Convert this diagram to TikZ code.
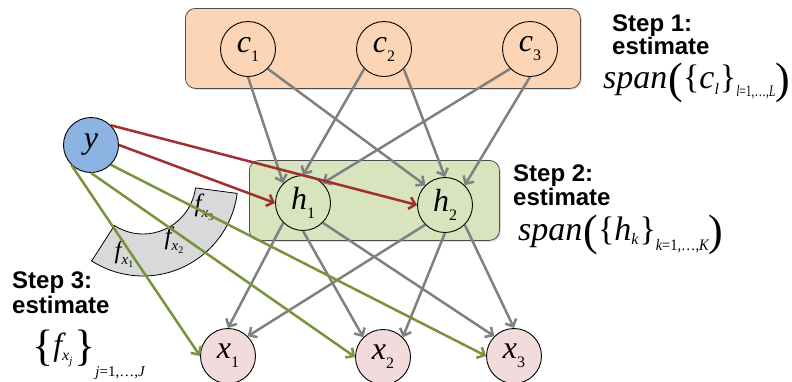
\documentclass[tikz,border=0pt]{standalone}
\usepackage{fontspec}
\usepackage{graphicx}
\newfontfamily\stepfont{Liberation Sans}
\newfontfamily\tms{Liberation Serif}
\usetikzlibrary{arrows.meta,calc,shadows}
\definecolor{boxorange}{RGB}{251,213,181}
\definecolor{boxgreen}{RGB}{215,228,189}
\definecolor{ynode}{RGB}{141,179,226}
\definecolor{xnode}{RGB}{242,220,219}
\definecolor{arcgray}{RGB}{217,217,217}
\definecolor{arrgray}{RGB}{128,128,128}
\definecolor{arrred}{RGB}{158,48,46}
\definecolor{arrgreen}{RGB}{119,147,60}
% variable label: italic letter with lowered upright subscript
\newcommand\vlab[2]{{\tms\fontsize{32}{32}\selectfont\itshape #1\raisebox{-9pt}{\upshape\fontsize{16}{16}\selectfont #2}}}
% f_{x_i} label in the block arc
\newcommand\flab[1]{{\tms\fontsize{25}{25}\selectfont\itshape f\raisebox{-6pt}{\fontsize{15}{15}\selectfont x\raisebox{-3pt}{\upshape\fontsize{10}{10}\selectfont #1}}}}
\tikzset{
  grp/.style={draw=black!70, line width=0.8pt, rounded corners=10pt, inner sep=0pt,
    drop shadow={opacity=0.25, shadow xshift=1.5pt, shadow yshift=-1.5pt}},
  vnode/.style={circle, draw=black, line width=0.9pt, minimum size=55pt, inner sep=0pt},
  tipv/.style={-{Straight Barb[length=6pt,width=12pt]}},
  garr/.style={draw=arrgray, line width=2.5pt, tipv},
  rarr/.style={draw=arrred, line width=2.5pt, tipv},
  grarr/.style={draw=arrgreen, line width=2.5pt, tipv},
  steptext/.style={font=\stepfont\bfseries\fontsize{24}{24}\selectfont, anchor=base west, inner sep=0pt},
  mathtext/.style={anchor=base west, inner sep=0pt},
  flabel/.style={inner sep=0pt},
  arcshape/.style={draw=black, line width=0.8pt, fill=arcgray}
}
\begin{document}
\begin{tikzpicture}[x=1pt,y=-1pt]
\useasboundingbox (0,0) rectangle (792,381);
% group boxes
\node[grp, fill=boxorange, minimum width=395pt, minimum height=80pt, anchor=north west] (cbox) at (185,8) {};
\node[grp, fill=boxgreen, minimum width=250pt, minimum height=80pt, anchor=north west] (hbox) at (249,160) {};
% variable nodes
\node[vnode, fill=boxorange] (c1) at (248,49) {\vlab{c}{1}};
\node[vnode, fill=boxorange] (c2) at (384,49) {\vlab{c}{2}};
\node[vnode, fill=boxorange] (c3) at (530,49) {\vlab{c}{3}};
\node[vnode, fill=boxgreen] (h1) at (303,203) {\vlab{h}{1}};
\node[vnode, fill=boxgreen] (h2) at (445,205) {\vlab{h}{2}};
\node[vnode, fill=xnode] (x1) at (228,356) {\vlab{x}{1}};
\node[vnode, fill=xnode] (x2) at (383,357) {\vlab{x}{2}};
\node[vnode, fill=xnode] (x3) at (514,356) {\vlab{x}{3}};
\node[vnode, fill=ynode] (y) at (91,145) {{\tms\fontsize{32}{32}\selectfont\itshape y}};
% block arc
\coordinate (ac) at (143,181);
\draw[arcshape] ($(ac)+(7.5:95)$) arc[start angle=7.5, end angle=122.7, radius=95]
  -- ($(ac)+(122.7:53)$) arc[start angle=122.7, end angle=7.5, radius=53] -- cycle;
\node[flabel] (f1) at (124,254) {\flab{1}};
\node[flabel] (f2) at (174,240) {\flab{2}};
\node[flabel] (f3) at (204,207) {\flab{3}};
% gray arrows c -> h
\draw[garr] (c1.south) -- (h1.north west);
\draw[garr] (c1.south east) -- (h2.north west);
\draw[garr] (c2.south west) -- (h1.north);
\draw[garr] (c2.south east) -- (h2.north);
\draw[garr] (c3.south west) -- (h1.north east);
\draw[garr] (c3.south) -- (h2.north east);
% gray arrows h -> x
\draw[garr] (h1.south west) -- (x1.north);
\draw[garr] (h1.south) -- (x2.north west);
\draw[garr] (h1.south east) -- (x3.north west);
\draw[garr] (h2.south west) -- (x1.north east);
\draw[garr] (h2.south) -- (x2.north east);
\draw[garr] (h2.south east) -- (x3.north);
% green arrows
\draw[grarr] (y.south west) -- (x1.west);
\draw[grarr] (y.south) -- (x2.west);
\draw[grarr] (y.south east) -- (x3.west);
% red arrows
\draw[rarr] (y.north east) -- (h2.west);
\draw[rarr] (y.east) -- (h1.west);
% step texts
\node[steptext] (s1a) at (612,31) {Step 1:};
\node[steptext] (s1b) at (612,54) {estimate};
\node[mathtext] (s1c) at (603,88) {\tms\fontsize{34}{34}\selectfont\itshape span\kern1pt\raisebox{-5pt}{\upshape\fontsize{44}{44}\selectfont(}{\upshape\{}c\raisebox{-6pt}{\fontsize{16}{16}\selectfont l}\kern1pt{\upshape\}}\raisebox{-8pt}{\scalebox{0.72}[1]{\fontsize{16}{16}\selectfont l{\upshape =1,\dots,}L}}\raisebox{-5pt}{\upshape\fontsize{44}{44}\selectfont)}};
\node[steptext] (s2a) at (513,181) {Step 2:};
\node[steptext] (s2b) at (513,205) {estimate};
\node[mathtext] (s2c) at (518,240) {\tms\fontsize{34}{34}\selectfont\itshape span\kern1pt\raisebox{-5pt}{\upshape\fontsize{44}{44}\selectfont(}{\upshape\{}h\raisebox{-4pt}{\fontsize{16}{16}\selectfont k}\kern1pt{\upshape\}}\raisebox{-10pt}{\scalebox{0.9}[1]{\fontsize{16}{16}\selectfont k{\upshape =1,\dots,}K}}\raisebox{-5pt}{\upshape\fontsize{44}{44}\selectfont)}};
\node[steptext] (s3a) at (12,288) {Step 3:};
\node[steptext] (s3b) at (12,313) {estimate};
\node[mathtext] (s3c) at (32,355) {\tms\fontsize{32}{32}\selectfont\itshape\raisebox{-5pt}{\upshape\fontsize{44}{44}\selectfont\{}f\raisebox{-5pt}{\fontsize{16}{16}\selectfont x\raisebox{-4pt}{\fontsize{11}{11}\selectfont j}}\kern2pt\raisebox{-5pt}{\upshape\fontsize{44}{44}\selectfont\}}\raisebox{-21pt}{\fontsize{15}{15}\selectfont j{\upshape =1,\dots,}J}};
\end{tikzpicture}
\end{document}
